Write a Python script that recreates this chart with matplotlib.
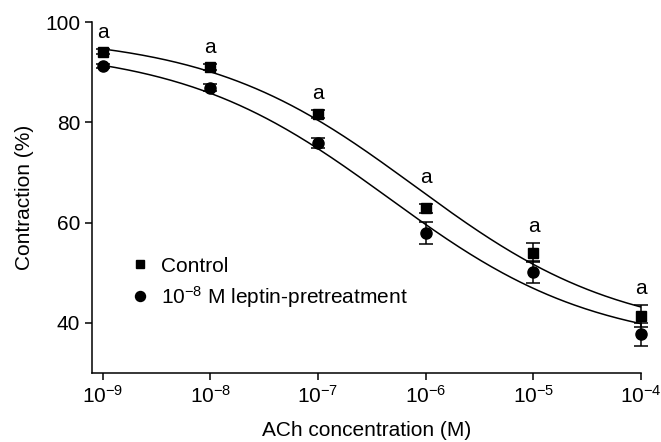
import matplotlib.pyplot as plt
import numpy as np

plt.rcParams['font.family'] = ['Liberation Sans', 'DejaVu Sans']
plt.rcParams['mathtext.fontset'] = 'custom'
plt.rcParams['mathtext.rm'] = 'Liberation Sans'
plt.rcParams['mathtext.it'] = 'Liberation Sans'

# ACh concentration (M) and contraction (%) with SEM
conc = [1e-9, 1e-8, 1e-7, 1e-6, 1e-5, 1e-4]
control = [94.1, 91.0, 81.6, 62.9, 54.0, 41.3]
control_err = [0.5, 0.6, 0.8, 0.9, 1.9, 2.2]
leptin = [91.2, 86.9, 75.9, 58.0, 50.2, 37.7]
leptin_err = [0.4, 0.7, 1.0, 2.2, 2.2, 2.3]
sig_labels = ['a', 'a', 'a', 'a', 'a', 'a']

# fitted sigmoid parameters: top, bottom, logEC50, hill slope
control_fit = (97.5, 37.0, -6.1, 0.45)
leptin_fit = (95.0, 35.0, -6.35, 0.45)


def hill(logx, p):
    top, bottom, c, h = p
    return bottom + (top - bottom) / (1 + 10 ** (h * (logx - c)))


fig = plt.figure(figsize=(6.61, 4.42), dpi=100)
ax = fig.add_axes([0.139, 0.156, 0.831, 0.794])

logx = np.linspace(-9, -4, 300)
ax.plot(10 ** logx, hill(logx, control_fit), color='black', lw=1.1)
ax.plot(10 ** logx, hill(logx, leptin_fit), color='black', lw=1.1)

eb1 = ax.errorbar(conc, control, yerr=control_err, fmt='s', color='black',
                  markersize=6.5, capsize=5, elinewidth=1.1, capthick=1.1,
                  label='Control')
eb2 = ax.errorbar(conc, leptin, yerr=leptin_err, fmt='o', color='black',
                  markersize=8, capsize=5, elinewidth=1.1, capthick=1.1,
                  label='$10^{-8}$ M leptin-pretreatment')
for eb in (eb1, eb2):
    for art in eb.get_children():
        art.set_clip_on(False)

ctrl_curve = hill(np.log10(conc), control_fit)
for x, y, e, cv, s in zip(conc, control, control_err, ctrl_curve, sig_labels):
    ax.annotate(s, (x, max(y + e, cv)), xytext=(0, 5),
                textcoords='offset points', ha='center', va='bottom',
                fontsize=15)

ax.set_xscale('log')
ax.set_xlim(10 ** -9.1, 1e-4)
ax.set_ylim(30, 100)
ax.set_xticks(conc)
ax.minorticks_off()
ax.set_yticks([40, 60, 80, 100])

for side in ['top', 'right']:
    ax.spines[side].set_visible(False)
for side in ['left', 'bottom']:
    ax.spines[side].set_linewidth(1.1)
ax.tick_params(direction='out', length=5, width=1.1, labelsize=15)

ax.set_xlabel('ACh concentration (M)', fontsize=15, labelpad=10)
ax.set_ylabel('Contraction (%)', fontsize=15, labelpad=8)

handles, labels = ax.get_legend_handles_labels()
handles = [h[0] for h in handles]
ax.legend(handles, labels, loc='upper left', bbox_to_anchor=(0.035, 0.385),
          frameon=False, fontsize=15, handletextpad=0.5, handlelength=1.0,
          labelspacing=0.4, markerscale=0.9)

fig.savefig('out.png', dpi=100)
